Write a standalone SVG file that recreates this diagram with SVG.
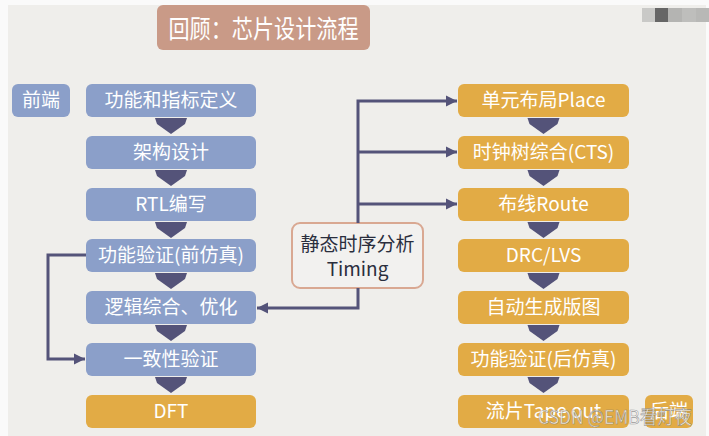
<svg xmlns="http://www.w3.org/2000/svg" width="709" height="436" viewBox="0 0 709 436">
<defs>
<style>
.bg{fill:#efeeeb}
.blue rect{fill:#8b9fc9}
.orange rect{fill:#e2ab45}
.node text{font-family:"Noto Sans CJK SC","Noto Sans",sans-serif;font-size:19px;fill:#ffffff;text-anchor:middle}
.conn{fill:none;stroke:#545379;stroke-width:3}
.step{fill:#545379}
</style>
<marker id="ah" viewBox="0 0 10 10" refX="10" refY="5" markerWidth="3.8" markerHeight="3.8" markerUnits="strokeWidth" orient="auto">
<path d="M0,0 L10,5 L0,10 Z" fill="#545379"/>
</marker>
<polygon id="down" points="-16,0 16,0 14,6 0,16 -14,6"/>
</defs>
<rect x="0" y="0" width="709" height="436" fill="#fafafa"/>
<rect class="bg" x="8" y="5" width="698" height="431"/>
<g id="mosaic">
<rect x="642" y="8" width="13" height="14" fill="#c9c9c7"/>
<rect x="655" y="8" width="13" height="14" fill="#666666"/>
<rect x="668" y="8" width="14" height="14" fill="#b4b4b2"/>
<rect x="682" y="8" width="14" height="14" fill="#bebebc"/>
<rect x="696" y="8" width="13" height="14" fill="#b8b8b6"/>
</g>
<g id="title" class="node">
<rect x="157" y="5" width="213" height="45" rx="6" fill="#c99a87"/>
<text x="263.5" y="38" style="font-size:25px" textLength="190" lengthAdjust="spacingAndGlyphs">回顾：芯片设计流程</text>
</g>
<g id="frontend-label" class="node blue">
<rect x="12" y="84" width="58" height="33" rx="6"/>
<text x="41" y="107">前端</text>
</g>
<g id="n1" class="node blue"><rect x="86" y="84" width="170" height="33" rx="6"/><text x="171" y="107">功能和指标定义</text></g>
<g id="n2" class="node blue"><rect x="86" y="136" width="170" height="33" rx="6"/><text x="171" y="159">架构设计</text></g>
<g id="n3" class="node blue"><rect x="86" y="188" width="170" height="33" rx="6"/><text x="171" y="211">RTL编写</text></g>
<g id="n4" class="node blue"><rect x="86" y="239" width="170" height="33" rx="6"/><text x="171" y="262">功能验证(前仿真)</text></g>
<g id="n5" class="node blue"><rect x="86" y="291" width="170" height="33" rx="6"/><text x="171" y="314">逻辑综合、优化</text></g>
<g id="n6" class="node blue"><rect x="86" y="343" width="170" height="33" rx="6"/><text x="171" y="366">一致性验证</text></g>
<g id="n7" class="node orange"><rect x="86" y="395" width="170" height="33" rx="6"/><text x="171" y="418">DFT</text></g>
<g id="r1" class="node orange"><rect x="458" y="84" width="171" height="33" rx="6"/><text x="543.5" y="107">单元布局Place</text></g>
<g id="r2" class="node orange"><rect x="458" y="136" width="171" height="33" rx="6"/><text x="543.5" y="159">时钟树综合(CTS)</text></g>
<g id="r3" class="node orange"><rect x="458" y="188" width="171" height="33" rx="6"/><text x="543.5" y="211">布线Route</text></g>
<g id="r4" class="node orange"><rect x="458" y="239" width="171" height="33" rx="6"/><text x="543.5" y="262">DRC/LVS</text></g>
<g id="r5" class="node orange"><rect x="458" y="291" width="171" height="33" rx="6"/><text x="543.5" y="314">自动生成版图</text></g>
<g id="r6" class="node orange"><rect x="458" y="343" width="171" height="33" rx="6"/><text x="543.5" y="366">功能验证(后仿真)</text></g>
<g id="r7" class="node orange"><rect x="458" y="395" width="171" height="33" rx="6"/><text x="543.5" y="418">流片Tape out</text></g>
<g id="backend-label" class="node orange">
<rect x="645" y="395" width="48" height="33" rx="6"/>
<text x="669" y="418">后端</text>
</g>
<g id="timing" class="node">
<rect x="292" y="223" width="131" height="65" rx="8" fill="#f2f1ef" stroke="#d9a892" stroke-width="2"/>
<text x="357.5" y="251" style="fill:#2a2e3d">静态时序分析</text>
<text x="357.5" y="276" style="fill:#2a2e3d">Timing</text>
</g>
<g id="connectors">
<g class="step">
<use href="#down" x="171" y="118"/>
<use href="#down" x="171" y="170"/>
<use href="#down" x="171" y="222"/>
<use href="#down" x="171" y="273"/>
<use href="#down" x="171" y="325"/>
<use href="#down" x="171" y="377"/>
<use href="#down" x="543.5" y="118"/>
<use href="#down" x="543.5" y="170"/>
<use href="#down" x="543.5" y="222"/>
<use href="#down" x="543.5" y="273"/>
<use href="#down" x="543.5" y="325"/>
<use href="#down" x="543.5" y="377"/>
</g>
<path class="conn" d="M358,223 V101 H457" marker-end="url(#ah)"/>
<path class="conn" d="M358,152 H457" marker-end="url(#ah)"/>
<path class="conn" d="M358,204 H457" marker-end="url(#ah)"/>
<path class="conn" d="M358,288 V308 H257" marker-end="url(#ah)"/>
<path class="conn" d="M86,255 H48 V359 H85" marker-end="url(#ah)"/>
</g>
<text x="615" y="424" textLength="154" lengthAdjust="spacingAndGlyphs" style="font-family:'Noto Sans CJK SC','Noto Sans',sans-serif;font-size:19px;fill:#ffffff;fill-opacity:0.75;stroke:#6e6e6e;stroke-width:0.6;stroke-opacity:0.7;text-anchor:middle">CSDN @EMB看灯夜</text>
</svg>
